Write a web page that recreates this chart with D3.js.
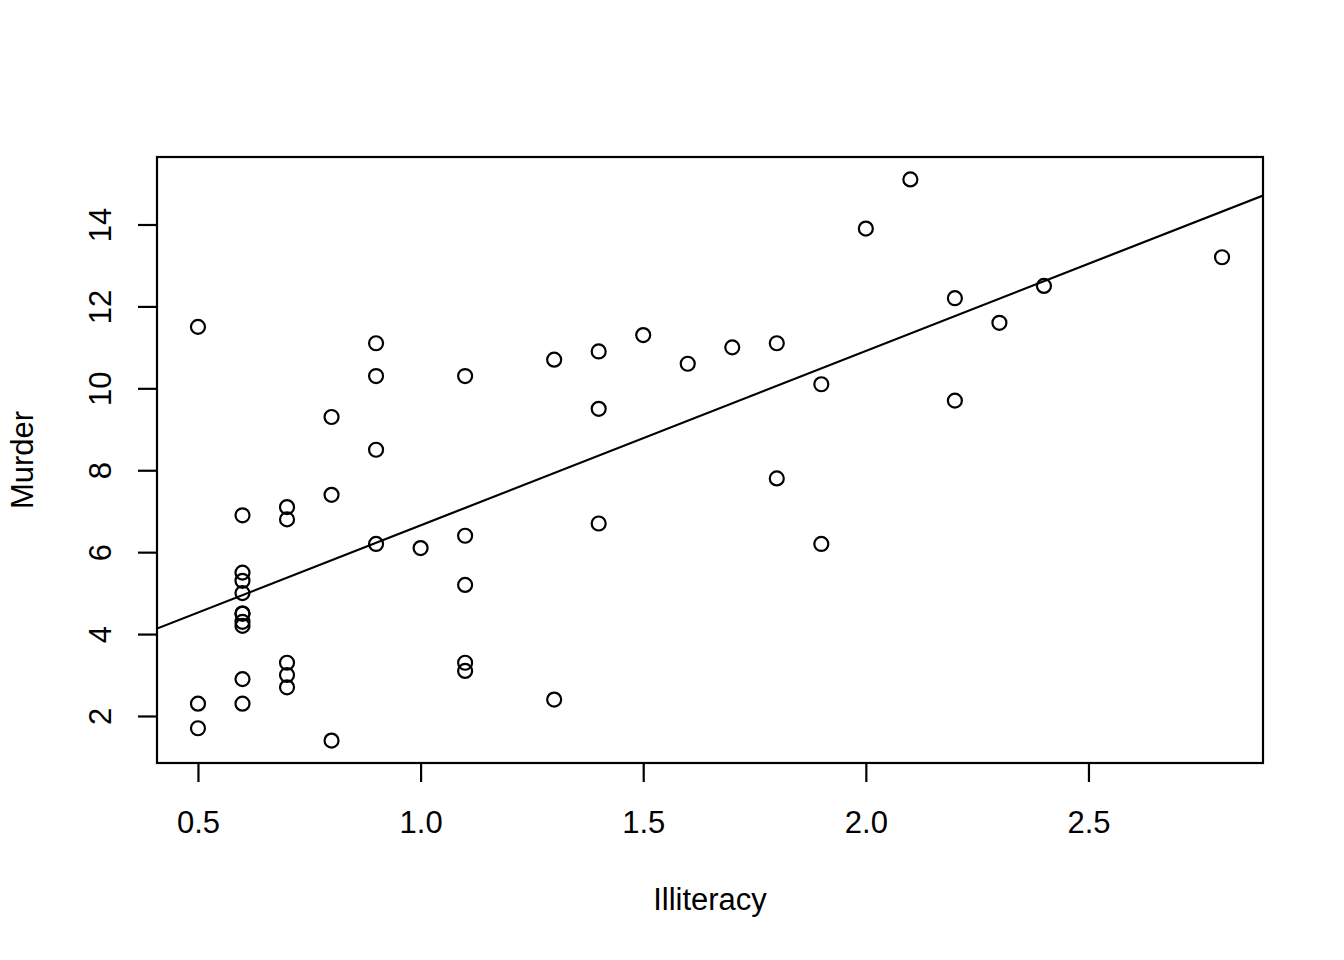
<!DOCTYPE html>
<html>
<head>
<meta charset="utf-8">
<script src="https://cdn.jsdelivr.net/npm/d3@7"></script>
<style>
  body { margin: 0; background: #fff; }
  text { font-family: "Liberation Sans", Arial, Helvetica, sans-serif; fill: #000; }
</style>
</head>
<body>
<div id="svg"></div>
<script>
// state.x77: Illiteracy (percent) and Murder (per 100,000), one entry per state
let illiteracy = [2.1, 1.5, 1.8, 1.9, 1.1, 0.7, 1.1, 0.9, 1.3, 2.0,
                  1.9, 0.6, 0.9, 0.7, 0.5, 0.6, 1.6, 2.8, 0.7, 0.9,
                  1.1, 0.9, 0.6, 2.4, 0.8, 0.6, 0.6, 0.5, 0.7, 1.1,
                  2.2, 1.4, 1.8, 0.8, 0.8, 1.1, 0.6, 1.0, 1.3, 2.3,
                  0.5, 1.7, 2.2, 0.6, 0.6, 1.4, 0.6, 1.4, 0.7, 0.6];
let murder = [15.1, 11.3, 7.8, 10.1, 10.3, 6.8, 3.1, 6.2, 10.7, 13.9,
              6.2, 5.3, 10.3, 7.1, 2.3, 4.5, 10.6, 13.2, 2.7, 8.5,
              3.3, 11.1, 2.3, 12.5, 9.3, 5.0, 2.9, 11.5, 3.3, 5.2,
              9.7, 10.9, 11.1, 1.4, 7.4, 6.4, 4.2, 6.1, 2.4, 11.6,
              1.7, 11.0, 12.2, 4.5, 5.5, 9.5, 4.3, 6.7, 3.0, 6.9];
let xTicks = [0.5, 1.0, 1.5, 2.0, 2.5];
let yTicks = [2, 4, 6, 8, 10, 12, 14];

function makeGraph(){
    let w = 1344;
    let h = 960;
    let left = 157, right = 1263, top = 157, bottom = 763;
    let fs = 31;

    let dataset = illiteracy.map((x, i) => ({x: x, y: murder[i]}));

    let svg = d3.select('#svg').append('svg').attr('width', w).attr('height', h);

    // R style axis range: data range stretched by 4% on each side
    let pad = (e) => [e[0] - (e[1] - e[0]) * 0.04, e[1] + (e[1] - e[0]) * 0.04];
    let xScale = d3.scaleLinear()
                .domain(pad(d3.extent(illiteracy)))
                .range([left, right]);
    let yScale = d3.scaleLinear()
                .domain(pad(d3.extent(murder)))
                .range([bottom, top]);

    // least squares fit, like abline(lm(Murder ~ Illiteracy))
    let mx = d3.mean(illiteracy), my = d3.mean(murder);
    let sxy = d3.sum(dataset, d => (d.x - mx) * (d.y - my));
    let sxx = d3.sum(dataset, d => (d.x - mx) * (d.x - mx));
    let slope = sxy / sxx;
    let intercept = my - slope * mx;

    svg.append('clipPath').attr('id', 'plotclip')
      .append('rect')
        .attr('x', left).attr('y', top)
        .attr('width', right - left).attr('height', bottom - top);

    svg.selectAll('circle')
      .data(dataset)
      .enter()
        .append('circle')
        .attr('cx', (d) => xScale(d.x))
        .attr('cy', (d) => yScale(d.y))
        .attr('r', 7)
        .style('fill', 'none')
        .style('stroke', '#000')
        .style('stroke-width', 2.2);

    let xd = xScale.domain();
    svg.append('line')
      .attr('clip-path', 'url(#plotclip)')
      .attr('x1', xScale(xd[0]))
      .attr('y1', yScale(intercept + slope * xd[0]))
      .attr('x2', xScale(xd[1]))
      .attr('y2', yScale(intercept + slope * xd[1]))
      .style('stroke', '#000')
      .style('stroke-width', 2.2);

    // plot box
    svg.append('rect')
      .attr('x', left).attr('y', top)
      .attr('width', right - left).attr('height', bottom - top)
      .style('fill', 'none')
      .style('stroke', '#000')
      .style('stroke-width', 2.2);

    let xAxis = d3.axisBottom(xScale)
                .tickValues(xTicks)
                .tickFormat(d3.format('.1f'))
                .tickSize(19)
                .tickSizeOuter(0);
    let xAxisGroup = svg.append('g')
                    .attr('transform', `translate(0, ${bottom})`)
                    .call(xAxis);
    xAxisGroup.select('.domain').remove();
    xAxisGroup.selectAll('line').style('stroke-width', 2.2);
    xAxisGroup.selectAll('text')
      .attr('y', 70)
      .attr('dy', 0)
      .attr('font-size', fs);

    let yAxis = d3.axisLeft(yScale)
                .tickValues(yTicks)
                .tickSize(19)
                .tickSizeOuter(0);
    let yAxisGroup = svg.append('g')
                    .attr('transform', `translate(${left}, 0)`)
                    .call(yAxis);
    yAxisGroup.select('.domain').remove();
    yAxisGroup.selectAll('line').style('stroke-width', 2.2);
    yAxisGroup.selectAll('text')
      .attr('transform', 'rotate(-90)')
      .attr('x', 0)
      .attr('y', -46)
      .attr('dy', 0)
      .attr('text-anchor', 'middle')
      .attr('font-size', fs);

    svg.append('text')
      .attr('transform', 'rotate(-90)')
      .attr('x', -(top + bottom) / 2)
      .attr('y', 33)
      .attr('text-anchor', 'middle')
      .attr('font-size', fs)
      .text('Murder');

    svg.append('text')
      .attr('x', (left + right) / 2)
      .attr('y', 910)
      .attr('text-anchor', 'middle')
      .attr('font-size', fs)
      .text('Illiteracy');
}

window.onload = function(){
    makeGraph();
}
</script>
</body>
</html>
